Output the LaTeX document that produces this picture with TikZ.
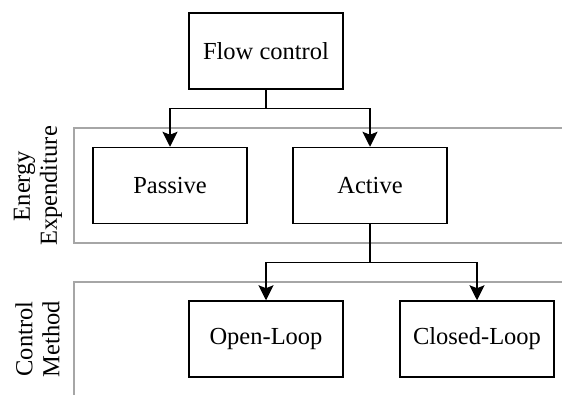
\documentclass[tikz,border=0pt]{standalone}
\usepackage{fontspec}
\setmainfont{Liberation Serif}
\usetikzlibrary{arrows.meta}
\tikzset{
  box/.style={draw=black, line width=1.5pt, minimum width=154pt, minimum height=76pt, inner sep=0pt, font=\fontsize{24.5}{27}\selectfont},
  panel/.style={draw=black!35, line width=1.5pt},
  conn/.style={draw=black, line width=1.5pt},
  arr/.style={conn, -{Stealth[length=15pt, width=15pt, inset=3pt]}},
  lab/.style={rotate=90, align=center, inner sep=0pt, font=\fontsize{24.5}{27}\selectfont}
}
\begin{document}
\begin{tikzpicture}[x=1pt, y=-1pt]
\useasboundingbox (0,0) rectangle (562,394);
% panels
\draw[panel] (563,128) -- (74,128) -- (74,243) -- (563,243);
\draw[panel] (563,282) -- (74,282) -- (74,395);
% labels
\node[lab] (lEnergy) at (38,186) {Energy\\Expenditure};
\node[lab] (lControl) at (37.5,339) {Control\\Method};
% boxes
\node[box] (flow) at (266,51) {Flow control};
\node[box] (passive) at (170,185.5) {Passive};
\node[box] (active) at (370,185.5) {Active};
\node[box] (open) at (266,339) {Open-Loop};
\node[box] (closed) at (477,339) {Closed-Loop};
% junctions
\coordinate (j1) at (266,108.5);
\coordinate (j2) at (370,262.5);
% connectors
\draw[conn] (flow.south) -- (j1);
\draw[arr] (j1) -| (passive.north);
\draw[arr] (j1) -| (active.north);
\draw[conn] (active.south) -- (j2);
\draw[arr] (j2) -| (open.north);
\draw[arr] (j2) -| (closed.north);
\end{tikzpicture}
\end{document}
